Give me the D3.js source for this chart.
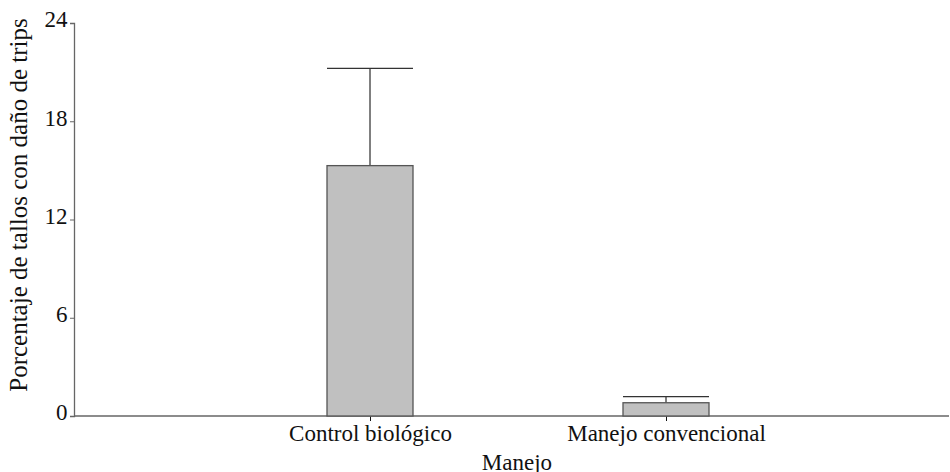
<!DOCTYPE html>
<html>
<head>
<meta charset="utf-8">
<script src="https://cdn.jsdelivr.net/npm/d3@7"></script>
<style>
  html, body { margin: 0; padding: 0; background: #fff; }
  svg { display: block; }
</style>
</head>
<body>
<svg id="chart" width="950" height="472"></svg>
<script>
// Treatments and their mean percentage of damaged stems, with upper error
const categories = ["Control biológico", "Manejo convencional"];
const means = [15.29, 0.81];
const errors = [5.94, 0.37];
const yTicks = [0, 6, 12, 18, 24];

const serif = "'Liberation Serif', 'Times New Roman', serif";
const fontPx = "23px";
const svg = d3.select("#chart");
const plot = { left: 74, right: 949, top: 23, bottom: 416 };

const y = d3.scaleLinear().domain([0, 24]).range([plot.bottom, plot.top]);
const x = d3.scalePoint().domain(categories).range([plot.left, plot.left + 888]).padding(1);
const barW = 86;

// Y axis
const yAxis = svg.append("g")
  .attr("transform", `translate(${plot.left},0)`)
  .call(d3.axisLeft(y).tickValues(yTicks).tickSize(4).tickPadding(2.5));
yAxis.attr("font-family", null).attr("font-size", null);
yAxis.select(".domain").attr("stroke", "#666").attr("stroke-width", 1.3);
yAxis.selectAll(".tick line").attr("stroke", "#666");
yAxis.selectAll(".tick text")
  .attr("dy", "0.17em")
  .style("font-family", serif).style("font-size", fontPx).attr("fill", "#111");

// X axis
const xAxis = svg.append("g")
  .attr("transform", `translate(0,${plot.bottom})`)
  .call(d3.axisBottom(x).tickSize(5).tickPadding(4).tickSizeOuter(0));
xAxis.attr("font-family", null).attr("font-size", null);
xAxis.select(".domain").remove();
xAxis.selectAll(".tick line").attr("stroke", "#111");
xAxis.selectAll(".tick text")
  .style("font-family", serif).style("font-size", fontPx).attr("fill", "#111");
svg.append("line")
  .attr("x1", plot.left).attr("x2", plot.right)
  .attr("y1", plot.bottom).attr("y2", plot.bottom)
  .attr("stroke", "#666").attr("stroke-width", 1.3);

// Error bars (upper only)
const eb = svg.append("g");
categories.forEach((c, i) => {
  const cx = x(c);
  eb.append("line")
    .attr("x1", cx).attr("x2", cx)
    .attr("y1", y(means[i])).attr("y2", y(means[i] + errors[i]))
    .attr("stroke", "#000").attr("stroke-width", 1);
  eb.append("line")
    .attr("x1", cx - barW / 2).attr("x2", cx + barW / 2)
    .attr("y1", y(means[i] + errors[i])).attr("y2", y(means[i] + errors[i]))
    .attr("stroke", "#333").attr("stroke-width", 1.3);
});

// Bars
svg.append("g").selectAll("rect")
  .data(categories)
  .join("rect")
  .attr("x", d => x(d) - barW / 2)
  .attr("width", barW)
  .attr("y", (d, i) => y(means[i]))
  .attr("height", (d, i) => plot.bottom - y(means[i]))
  .attr("fill", "#c0c0c0")
  .attr("stroke", "#555")
  .attr("stroke-width", 1.3);

// Axis titles
svg.append("text")
  .attr("x", 517).attr("y", 469.5)
  .attr("text-anchor", "middle")
  .style("font-family", serif).style("font-size", fontPx).attr("fill", "#111")
  .text("Manejo");

svg.append("text")
  .attr("transform", `translate(27,205) rotate(-90)`)
  .attr("text-anchor", "middle")
  .style("font-family", serif).style("font-size", "25px").attr("fill", "#111")
  .text("Porcentaje de tallos con daño de trips");
</script>
</body>
</html>
